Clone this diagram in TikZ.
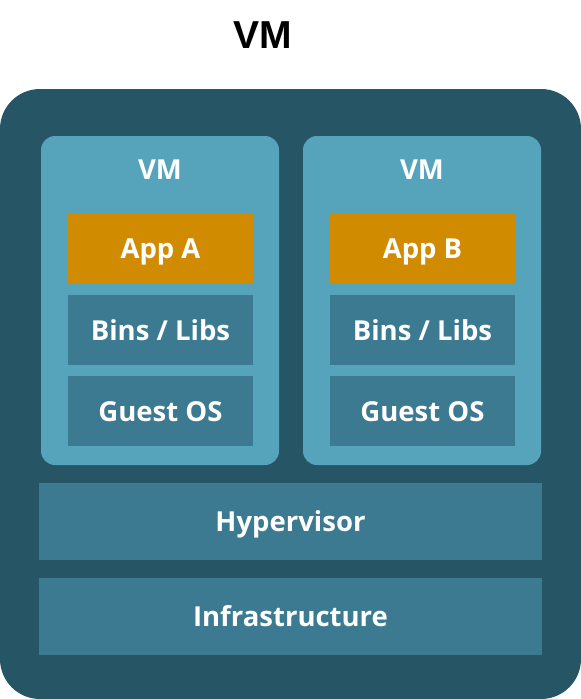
\documentclass[tikz,border=0pt]{standalone}
\usepackage{fontspec}
\setmainfont{Open Sans}
\newfontfamily\titlefont{Liberation Sans}
\definecolor{hostbg}{HTML}{265566}
\definecolor{vmbg}{HTML}{56A3BC}
\definecolor{layerbg}{HTML}{3B7A91}
\definecolor{appbg}{HTML}{D18B00}
\begin{document}
\begin{tikzpicture}[x=1pt,y=-1pt,
  every node/.style={inner sep=0pt, outer sep=0pt},
  host/.style={fill=hostbg, rounded corners=40pt, minimum width=581pt, minimum height=610pt},
  vmbox/.style={fill=vmbg, rounded corners=14pt, minimum width=238pt, minimum height=329pt},
  label/.style={text=white, font=\fontsize{27.5}{32}\selectfont\bfseries,
    text height=20pt, text depth=0pt},
  layer/.style={fill=layerbg, label, minimum width=185pt, minimum height=70pt},
  app/.style={layer, fill=appbg, minimum height=69pt},
  wide/.style={layer, minimum width=503pt, minimum height=77pt}
]
\useasboundingbox (0,0) rectangle (581,699);
\node[font=\titlefont\fontsize{39}{44}\selectfont\bfseries] (title) at (263,35) {VM};
\node[host] (host) at (290.5,394) {};
\node[vmbox] (vmA) at (160,300.5) {};
\node[vmbox] (vmB) at (422,300.5) {};
\node[label] (vmAlabel) at (160,169) {VM};
\node[label] (vmBlabel) at (422,169) {VM};
\node[app] (appA) at (160.5,248.5) {App A};
\node[app] (appB) at (422.5,248.5) {App B};
\node[layer] (binsA) at (160.5,330) {Bins / Libs};
\node[layer] (binsB) at (422.5,330) {Bins / Libs};
\node[layer] (osA) at (160.5,411) {Guest OS};
\node[layer] (osB) at (422.5,411) {Guest OS};
\node[wide] (hyper) at (290.5,521.5) {Hypervisor};
\node[wide] (infra) at (290.5,616.5) {Infrastructure};
\end{tikzpicture}
\end{document}
